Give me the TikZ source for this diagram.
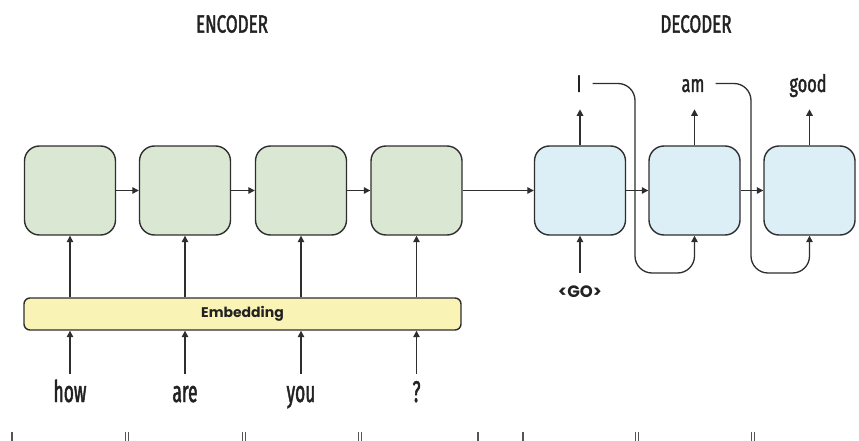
\documentclass[tikz,border=0pt]{standalone}
\usepackage{fontspec}
\setmainfont{Fira Sans}
\newfontfamily\condfont[FakeStretch=0.68,FakeBold=1.6]{Fira Sans}
\newfontfamily\condnarrow[FakeStretch=0.58,FakeBold=1.6]{Fira Sans}
\newfontfamily\geofont{Poppins}
\usetikzlibrary{arrows.meta}
\definecolor{encgreen}{HTML}{DAE7D3}
\definecolor{decblue}{HTML}{DCEEF6}
\definecolor{embyellow}{HTML}{FAF3B6}
\definecolor{linegray}{HTML}{2E2E2E}
\definecolor{textdark}{HTML}{222222}
\definecolor{tickgray}{HTML}{555555}
\begin{document}
\begin{tikzpicture}[x=1pt,y=-1pt,
  cell/.style={draw=linegray, line width=1.4pt, rounded corners=15pt,
    minimum width=91pt, minimum height=89pt, inner sep=0pt},
  enc/.style={cell, fill=encgreen},
  dec/.style={cell, fill=decblue},
  embbar/.style={draw=linegray, line width=1.4pt, rounded corners=6pt,
    fill=embyellow, minimum width=437pt, minimum height=32pt, inner sep=0pt,
    font=\geofont\bfseries\fontsize{14}{17}\selectfont, text=textdark},
  arr/.style={draw=linegray, line width=1.3pt, -{Triangle[length=6.5pt,width=6.5pt]}},
  titlelbl/.style={font=\condfont\fontsize{25}{30}\selectfont, text=textdark},
  outlbl/.style={font=\condfont\fontsize{24}{28}\selectfont, text=textdark,
    anchor=base, inner sep=0pt, text height=17pt, text depth=0pt},
  inlbl/.style={font=\condnarrow\fontsize{30}{34}\selectfont, text=textdark,
    anchor=base, inner sep=0pt, text height=28pt, text depth=0pt},
  golbl/.style={font=\geofont\bfseries\fontsize{16.5}{20}\selectfont, text=textdark,
    anchor=base, inner sep=0pt, text height=24pt, text depth=0pt},
  tick/.style={draw=tickgray, line width=1.2pt}
]
\useasboundingbox (0,0) rectangle (859,441);

% titles
\node[titlelbl] (enctitle) at (232,24) {ENCODER};
\node[titlelbl] (dectitle) at (696,24) {DECODER};

% encoder cells
\node[enc] (e1) at (70,190.5) {};
\node[enc] (e2) at (185,190.5) {};
\node[enc] (e3) at (301,190.5) {};
\node[enc] (e4) at (416.5,190.5) {};

% decoder cells
\node[dec] (d1) at (580,190.5) {};
\node[dec] (d2) at (694.5,190.5) {};
\node[dec] (d3) at (809.5,190.5) {};

% embedding
\node[embbar] (emb) at (242.5,314) {Embedding};

% horizontal arrows
\draw[arr] (e1.east) -- (e2.west);
\draw[arr] (e2.east) -- (e3.west);
\draw[arr] (e3.east) -- (e4.west);
\draw[arr] (e4.east) -- (d1.west);
\draw[arr] (d1.east) -- (d2.west);
\draw[arr] (d2.east) -- (d3.west);

% embedding to encoder
\foreach \c in {e1,e2,e3,e4} {
  \draw[arr] (\c.south |- emb.north) -- (\c.south);
}

% input words
\node[inlbl] (w1) at (70,402) {how};
\node[inlbl] (w2) at (185,402) {are};
\node[inlbl] (w3) at (301,402) {you};
\node[inlbl] (w4) at (416.5,402) {?};
\foreach \w in {w1,w2,w3,w4} {
  \draw[arr] (\w.north) -- (\w.north |- emb.south);
}

% decoder outputs
\node[outlbl] (o1) at (579,92) {I};
\node[outlbl] (o2) at (693,92) {am};
\node[outlbl] (o3) at (808,92) {good};
\draw[arr] (d1.north) -- ++(0,-36);
\draw[arr] (d2.north) -- ++(0,-36);
\draw[arr] (d3.north) -- ++(0,-36);

% GO input
\node[golbl] (go) at (580,297) {<GO>};
\draw[arr] (go.north) -- (d1.south);

% feedback loops
\draw[arr, rounded corners=17pt] ([xshift=11pt]o1.east) -| (635,273) -| (d2.south);
\draw[arr, rounded corners=17pt] ([xshift=11pt]o2.east) -| (751,273) -| (d3.south);

% cut-off ticks at the bottom edge
\foreach \x in {12,478,523} {
  \draw[tick] (\x,432) -- (\x,441);
}
\foreach \x in {127,244,360,637,753} {
  \draw[tick] (\x-1.6,432) -- (\x-1.6,441);
  \draw[tick] (\x+1.6,432) -- (\x+1.6,441);
}
\end{tikzpicture}
\end{document}
